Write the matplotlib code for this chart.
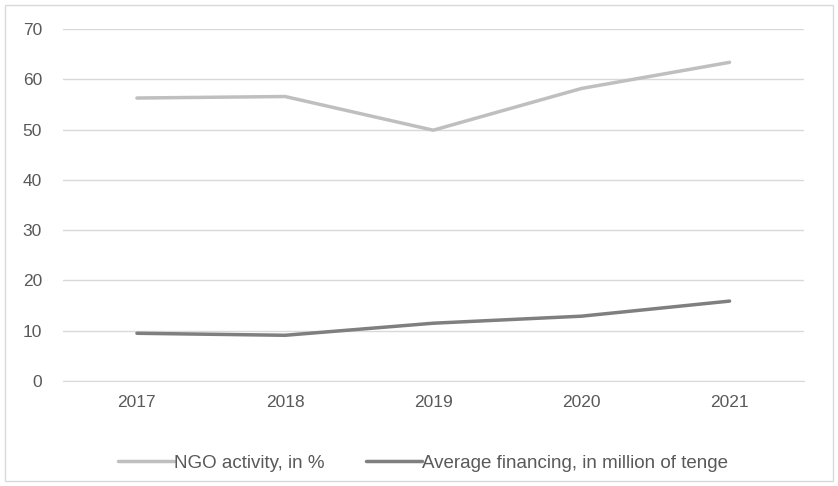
import matplotlib.pyplot as plt
from matplotlib.patches import Rectangle

years = ["2017", "2018", "2019", "2020", "2021"]
ngo_activity = [56.3, 56.6, 49.9, 58.2, 63.4]
avg_financing = [9.5, 9.1, 11.5, 12.9, 15.9]

plt.rcParams["font.family"] = ["Liberation Sans", "DejaVu Sans"]

fig = plt.figure(figsize=(8.38, 4.86), dpi=100)
ax = fig.add_axes([0.075, 0.216, 0.884, 0.724])

x = range(len(years))
ax.plot(x, ngo_activity, color="#BFBFBF", linewidth=2.5, solid_capstyle="round",
        label="NGO activity, in %")
ax.plot(x, avg_financing, color="#7F7F7F", linewidth=2.5, solid_capstyle="round",
        label="Average financing, in million of tenge")

ax.set_xlim(-0.5, 4.5)
ax.set_ylim(0, 70)
ax.set_yticks(range(0, 71, 10))
ax.set_xticks(list(x))
ax.set_xticklabels(years)
ax.grid(axis="y", color="#D9D9D9", linewidth=1)
ax.set_axisbelow(True)
for side in ["top", "right", "left"]:
    ax.spines[side].set_visible(False)
ax.spines["bottom"].set_color("#D9D9D9")
ax.tick_params(length=0, labelsize=12.5, colors="#595959", pad=10)
ax.tick_params(axis="y", pad=15)

fig.legend(loc="center", bbox_to_anchor=(0.505, 0.047), ncol=2, frameon=False,
           fontsize=13.5, labelcolor="#595959", handlelength=3.0, handletextpad=0.0,
           columnspacing=2.2)

fig.patches.append(Rectangle((0.006, 0.01), 0.988, 0.98, transform=fig.transFigure,
                             fill=False, edgecolor="#D9D9D9", linewidth=1))

fig.savefig("out.png", dpi=100)
